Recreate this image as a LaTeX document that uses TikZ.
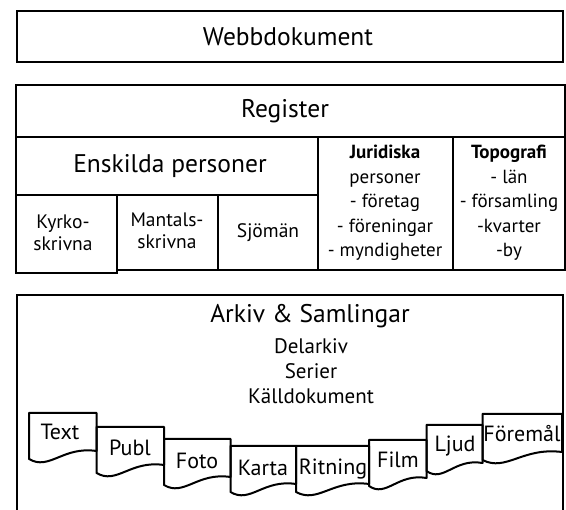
\documentclass[tikz,border=0pt]{standalone}
\usepackage{fontspec}
\setmainfont{PT Sans}

\tikzset{
  frame/.style={line width=2.4pt},
  cell/.style={line width=2pt},
  docline/.style={line width=2pt, line join=round},
  big/.style={font=\fontsize{25.5}{30}\selectfont},
  mid/.style={font=\fontsize{21}{24}\selectfont},
  list/.style={font=\fontsize{19}{24.5}\selectfont, align=center},
  pair/.style={font=\fontsize{19.5}{22}\selectfont, align=center},
  doclabel/.style={font=\fontsize{22}{24}\selectfont}
}

% document sheet with wavy bottom: left x, right x, top y
\newcommand{\docshape}[3]{%
  \draw[docline] (#1,#3) -- (#2,#3) -- (#2,{#3+38})
    .. controls ({#2-0.5*(#2-#1)},{#3+33}) and ({#1+0.3*(#2-#1)},{#3+58}) .. (#1,{#3+46}) -- cycle;}

\begin{document}
\begin{tikzpicture}[x=1pt,y=-1pt]
    \useasboundingbox (0,0) rectangle (566,510);

    % Webbdokument
    \draw[frame] (17,11) rectangle (563,62);
    \node[big] (web) at (288,37) {Webbdokument};

    % Register
    \draw[frame] (117,270) -- (565,270) -- (565,85) -- (16,85) -- (16,273) -- (117,273) -- (117,270);
    \draw[cell] (16,137) -- (565,137)
                (16,195) -- (318,195)
                (318,137) -- (318,270)
                (453,137) -- (453,270)
                (117,195) -- (117,273)
                (218,195) -- (218,270);
    \node[big] (reg) at (285,111) {Register};
    \node[big] (ensk) at (170,166) {Enskilda personer};
    \node[pair] (kyrko) at (63,233) {Kyrko-\\skrivna};
    \node[pair] (mantal) at (167,231) {Mantals-\\skrivna};
    \node[pair] (sjoman) at (268,233) {Sjömän};
    \node[list] (jurid) at (385,203) {\textbf{Juridiska}\\personer\\- företag\\- föreningar\\- myndigheter};
    \node[list] (topo) at (509,203) {\textbf{Topografi}\\- län\\- församling\\-kvarter\\-by};

    % Arkiv & Samlingar
    \draw[frame] (17,512) -- (17,295) -- (563,295) -- (563,512);
    \node[big] (arkiv) at (310,316) {Arkiv \& Samlingar};
    \node[mid] (delarkiv) at (311,346) {Delarkiv};
    \node[mid] (serier) at (311,371) {Serier};
    \node[mid] (kalldok) at (311,396) {Källdokument};

    % Dokumenttyper
    \docshape{29}{96.5}{413}
    \docshape{96.5}{164}{427}
    \docshape{164}{230.5}{439}
    \docshape{230.5}{296}{446}
    \docshape{296}{369}{446}
    \docshape{369}{426.5}{440}
    \docshape{426.5}{482.5}{425}
    \docshape{482.5}{562}{414}
    \node[doclabel] (text) at (60,432) {Text};
    \node[doclabel] (publ) at (130,448) {Publ};
    \node[doclabel] (foto) at (197,461) {Foto};
    \node[doclabel] (karta) at (263,468) {Karta};
    \node[doclabel] (ritning) at (333,469) {Ritning};
    \node[doclabel] (film) at (398,460) {Film};
    \node[doclabel] (ljud) at (455,446) {Ljud};
    \node[doclabel] (foremal) at (522,434) {Föremål};
\end{tikzpicture}
\end{document}
